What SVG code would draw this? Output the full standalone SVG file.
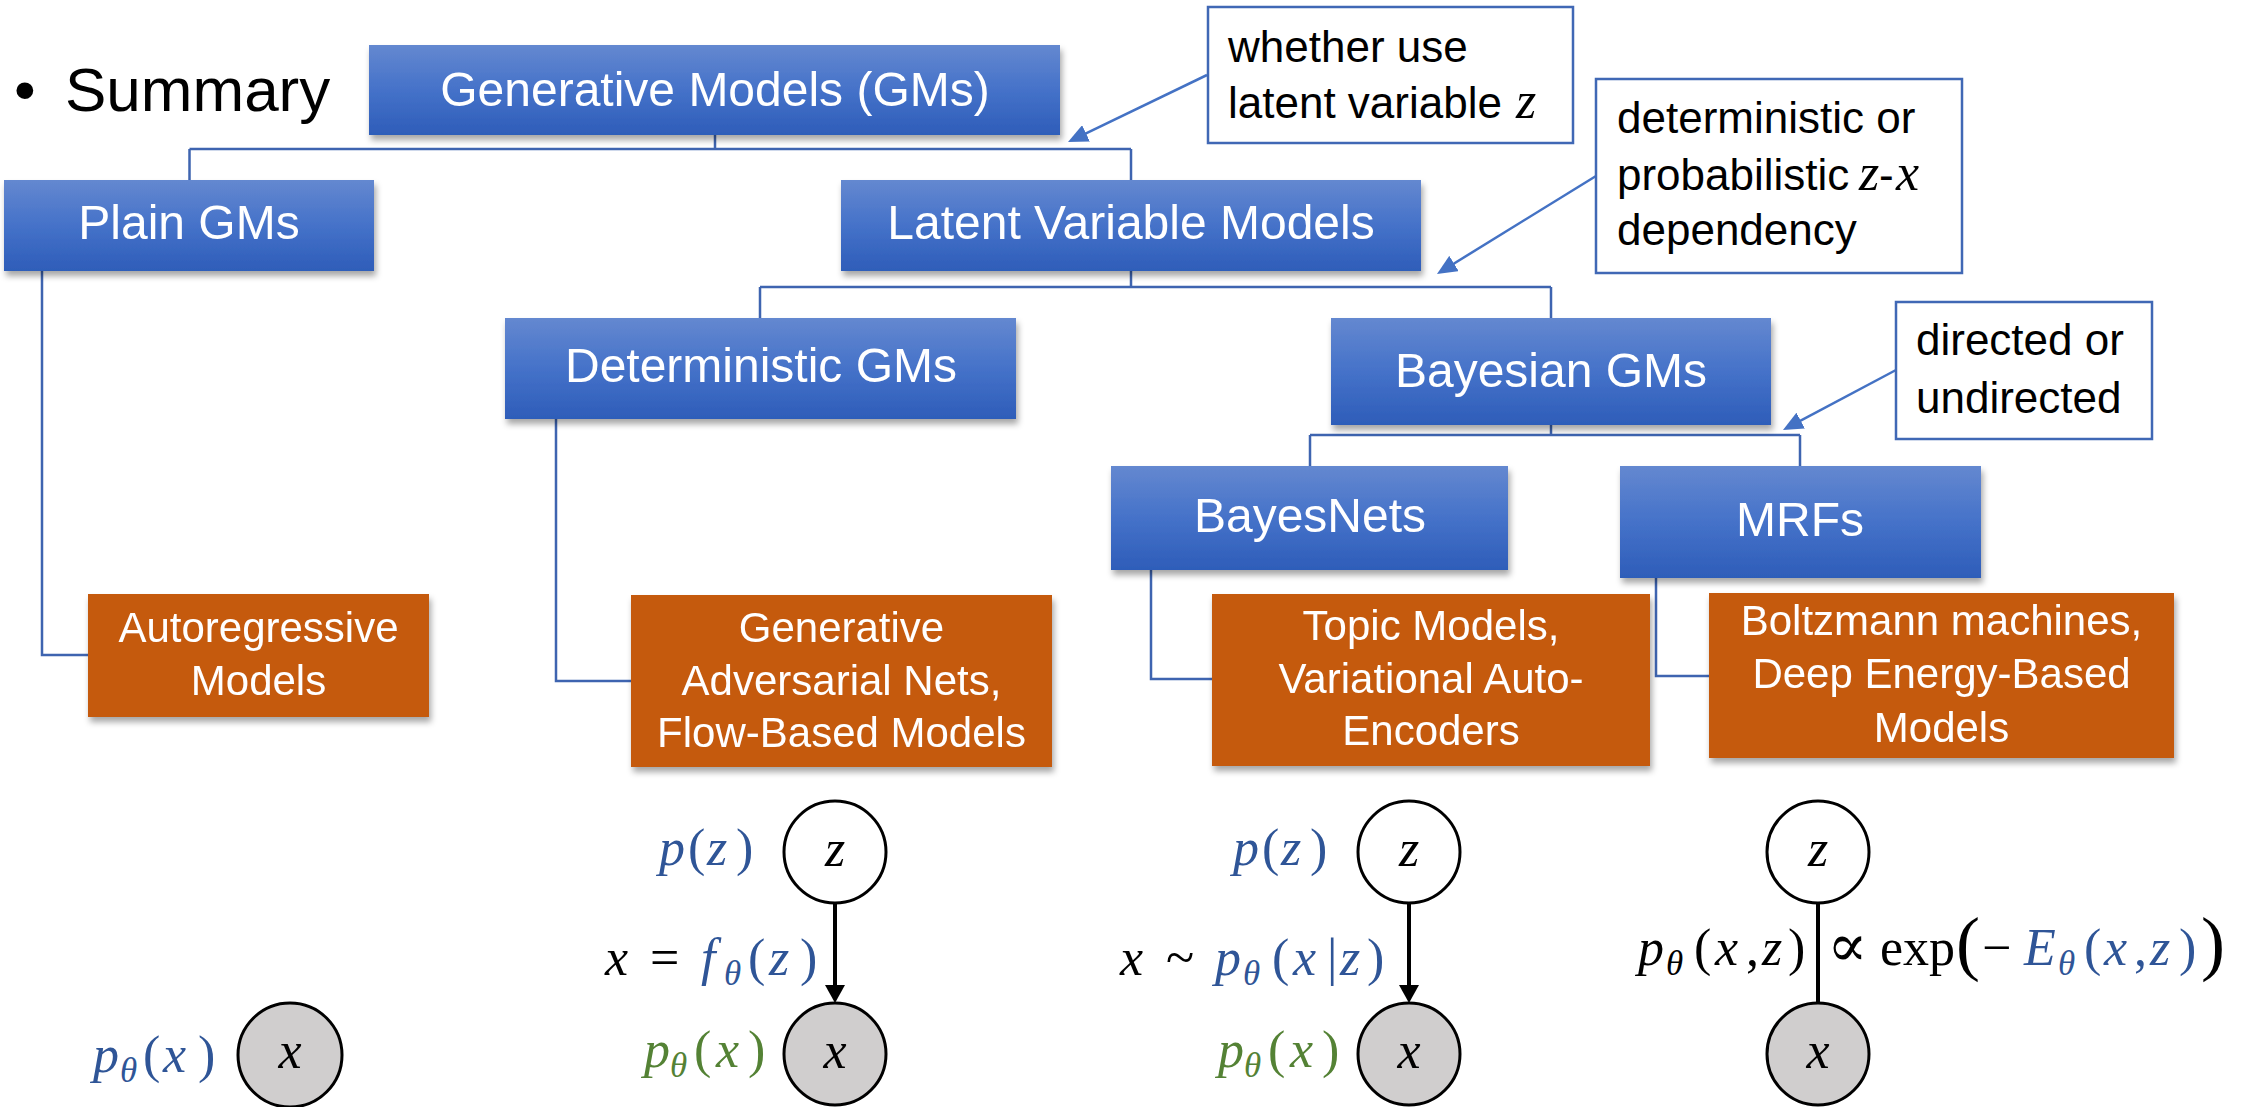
<svg xmlns="http://www.w3.org/2000/svg" width="2250" height="1107" viewBox="0 0 2250 1107">
<style>
.sans{font-family:"Liberation Sans",Arial,sans-serif}
.bt{font-family:"Liberation Sans",Arial,sans-serif;font-size:48px;fill:#fff;text-anchor:middle}
.ot{font-family:"Liberation Sans",Arial,sans-serif;font-size:42px;fill:#fff;text-anchor:middle}
.at{font-family:"Liberation Sans",Arial,sans-serif;font-size:44px;fill:#000}
.m{font-family:"Liberation Serif","DejaVu Serif",serif;font-size:52px;fill:#000}
.i{font-style:italic}
.s{font-size:35px;font-style:italic}
.bl{fill:#2F5597}
.gr{fill:#548235}
.conn{fill:none;stroke:#3E64B0;stroke-width:2.5}
.ann{fill:#fff;stroke:#4068B5;stroke-width:2.5}
.aline{fill:none;stroke:#4472C4;stroke-width:2.5}
.gline{fill:none;stroke:#000;stroke-width:4}
.circ{stroke:#000;stroke-width:3}
</style>
<defs>
<linearGradient id="blueg" x1="0" y1="0" x2="0" y2="1">
<stop offset="0" stop-color="#6488D0"/>
<stop offset="0.5" stop-color="#4572C9"/>
<stop offset="1" stop-color="#2E5DB9"/>
</linearGradient>
<filter id="sh" x="-10%" y="-10%" width="125%" height="135%">
<feDropShadow dx="2" dy="5" stdDeviation="3" flood-color="#000" flood-opacity="0.35"/>
</filter>
<marker id="ab" markerUnits="userSpaceOnUse" viewBox="0 0 20 18" markerWidth="20" markerHeight="18" refX="8" refY="9" orient="auto">
<path d="M0,0 L20,9 L0,18 z" fill="#4472C4"/>
</marker>
<marker id="kb" markerUnits="userSpaceOnUse" viewBox="0 0 18 20" markerWidth="18" markerHeight="20" refX="5" refY="10" orient="auto">
<path d="M0,0 L18,10 L0,20 z" fill="#000"/>
</marker>
</defs>
<rect width="2250" height="1107" fill="#fff"/>

<g id="title">
<text class="sans" x="14" y="111" font-size="62">•</text>
<text class="sans" x="65" y="111" font-size="62">Summary</text>
</g>

<g id="connectors">
<path class="conn" d="M715,135 V149 M189.5,149 H1131 M189.5,149 V180 M1131,149 V180"/>
<path class="conn" d="M42,271 V655 H88"/>
<path class="conn" d="M1131,271 V287 M760,287 H1551 M760,287 V318 M1551,287 V318"/>
<path class="conn" d="M556,419 V681 H631"/>
<path class="conn" d="M1551,425 V435 M1310,435 H1800 M1310,435 V466 M1800,435 V466"/>
<path class="conn" d="M1151,570 V679 H1212"/>
<path class="conn" d="M1656,578 V676 H1709"/>
<line class="aline" x1="1207" y1="75" x2="1078.8" y2="136.8" marker-end="url(#ab)"/>
<line class="aline" x1="1596" y1="176" x2="1447.2" y2="267.7" marker-end="url(#ab)"/>
<line class="aline" x1="1896" y1="370" x2="1793.6" y2="424.4" marker-end="url(#ab)"/>
</g>

<g id="n-gm" filter="url(#sh)"><rect x="369" y="45" width="691" height="90" fill="url(#blueg)"/><text class="bt" x="715" y="106">Generative Models (GMs)</text></g>
<g id="n-plain" filter="url(#sh)"><rect x="4" y="180" width="370" height="91" fill="url(#blueg)"/><text class="bt" x="189" y="239">Plain GMs</text></g>
<g id="n-lvm" filter="url(#sh)"><rect x="841" y="180" width="580" height="91" fill="url(#blueg)"/><text class="bt" x="1131" y="239">Latent Variable Models</text></g>
<g id="n-det" filter="url(#sh)"><rect x="505" y="318" width="511" height="101" fill="url(#blueg)"/><text class="bt" x="761" y="382">Deterministic GMs</text></g>
<g id="n-bayes" filter="url(#sh)"><rect x="1331" y="318" width="440" height="107" fill="url(#blueg)"/><text class="bt" x="1551" y="387">Bayesian GMs</text></g>
<g id="n-bn" filter="url(#sh)"><rect x="1111" y="466" width="397" height="104" fill="url(#blueg)"/><text class="bt" x="1310" y="532">BayesNets</text></g>
<g id="n-mrf" filter="url(#sh)"><rect x="1620" y="466" width="361" height="112" fill="url(#blueg)"/><text class="bt" x="1800" y="536">MRFs</text></g>

<g id="n-ar" filter="url(#sh)"><rect x="88" y="594" width="341" height="123" fill="#C55A11"/><text class="ot" x="258.5" y="642">Autoregressive</text><text class="ot" x="258.5" y="695">Models</text></g>
<g id="n-gan" filter="url(#sh)"><rect x="631" y="595" width="421" height="172" fill="#C55A11"/><text class="ot" x="841.5" y="642">Generative</text><text class="ot" x="841.5" y="695">Adversarial Nets,</text><text class="ot" x="841.5" y="747">Flow-Based Models</text></g>
<g id="n-topic" filter="url(#sh)"><rect x="1212" y="594" width="438" height="172" fill="#C55A11"/><text class="ot" x="1431" y="640">Topic Models,</text><text class="ot" x="1431" y="693">Variational Auto-</text><text class="ot" x="1431" y="745">Encoders</text></g>
<g id="n-boltz" filter="url(#sh)"><rect x="1709" y="593" width="465" height="165" fill="#C55A11"/><text class="ot" x="1941.5" y="635">Boltzmann machines,</text><text class="ot" x="1941.5" y="688">Deep Energy-Based</text><text class="ot" x="1941.5" y="742">Models</text></g>

<g id="a-whether"><rect class="ann" x="1208" y="7" width="365" height="136"/><text class="at" x="1228" y="62">whether use</text><text class="at" x="1228" y="118">latent variable <tspan class="m i" x="1516" font-size="48">z</tspan></text></g>
<g id="a-det"><rect class="ann" x="1596" y="79" width="366" height="194"/><text class="at" x="1617" y="133">deterministic or</text><text class="at" x="1617" y="190">probabilistic <tspan class="m i" x="1859" font-size="48">z</tspan><tspan x="1879">-</tspan><tspan class="m i" x="1896" font-size="48">x</tspan></text><text class="at" x="1617" y="245">dependency</text></g>
<g id="a-dir"><rect class="ann" x="1896" y="302" width="256" height="137"/><text class="at" x="1916" y="355">directed or</text><text class="at" x="1916" y="413">undirected</text></g>

<g id="g-ar">
<circle class="circ" cx="290" cy="1055" r="52" fill="#D0CECE"/>
<text class="m i" x="290" y="1068" text-anchor="middle">x</text>
<text class="m bl"><tspan class="i" x="93" y="1072">p</tspan><tspan class="s" x="120" y="1082">θ</tspan><tspan x="143" y="1072">(</tspan><tspan class="i" x="163" y="1072">x</tspan><tspan x="198" y="1072">)</tspan></text>
</g>

<g id="g-det">
<circle class="circ" cx="835" cy="852" r="51" fill="#fff"/>
<text class="m i" x="835" y="866" text-anchor="middle">z</text>
<circle class="circ" cx="835" cy="1054" r="51" fill="#D0CECE"/>
<text class="m i" x="835" y="1068" text-anchor="middle">x</text>
<line class="gline" x1="835" y1="903" x2="835" y2="990" marker-end="url(#kb)"/>
<text class="m bl"><tspan class="i" x="659" y="865">p</tspan><tspan x="688" y="865">(</tspan><tspan class="i" x="707" y="865">z</tspan><tspan x="736" y="865">)</tspan></text>
<text class="m"><tspan class="i" x="605" y="975">x</tspan><tspan x="650" y="975">=</tspan><tspan class="i bl" x="701" y="975">f</tspan><tspan class="s bl" x="724" y="985">θ</tspan><tspan class="bl" x="748" y="975">(</tspan><tspan class="i bl" x="769" y="975">z</tspan><tspan class="bl" x="800" y="975">)</tspan></text>
<text class="m gr"><tspan class="i" x="644" y="1067">p</tspan><tspan class="s" x="670" y="1077">θ</tspan><tspan x="694" y="1067">(</tspan><tspan class="i" x="716" y="1067">x</tspan><tspan x="748" y="1067">)</tspan></text>
</g>

<g id="g-bayes">
<circle class="circ" cx="1409" cy="852" r="51" fill="#fff"/>
<text class="m i" x="1409" y="866" text-anchor="middle">z</text>
<circle class="circ" cx="1409" cy="1054" r="51" fill="#D0CECE"/>
<text class="m i" x="1409" y="1068" text-anchor="middle">x</text>
<line class="gline" x1="1409" y1="903" x2="1409" y2="990" marker-end="url(#kb)"/>
<text class="m bl"><tspan class="i" x="1233" y="865">p</tspan><tspan x="1262" y="865">(</tspan><tspan class="i" x="1281" y="865">z</tspan><tspan x="1310" y="865">)</tspan></text>
<text class="m"><tspan class="i" x="1120" y="975">x</tspan><tspan x="1166" y="975">~</tspan><tspan class="i bl" x="1215" y="975">p</tspan><tspan class="s bl" x="1243" y="985">θ</tspan><tspan class="bl" x="1272" y="975">(</tspan><tspan class="i bl" x="1293" y="975">x</tspan><tspan class="bl" x="1327" y="975">|</tspan><tspan class="i bl" x="1340" y="975">z</tspan><tspan class="bl" x="1367" y="975">)</tspan></text>
<text class="m gr"><tspan class="i" x="1218" y="1067">p</tspan><tspan class="s" x="1244" y="1077">θ</tspan><tspan x="1268" y="1067">(</tspan><tspan class="i" x="1290" y="1067">x</tspan><tspan x="1322" y="1067">)</tspan></text>
</g>

<g id="g-mrf">
<line class="gline" x1="1818" y1="902" x2="1818" y2="1004"/>
<circle class="circ" cx="1818" cy="852" r="51" fill="#fff"/>
<text class="m i" x="1818" y="866" text-anchor="middle">z</text>
<circle class="circ" cx="1818" cy="1054" r="51" fill="#D0CECE"/>
<text class="m i" x="1818" y="1068" text-anchor="middle">x</text>
<text class="m"><tspan class="i" x="1638" y="965">p</tspan><tspan class="s" x="1666" y="975">θ</tspan><tspan x="1694" y="965">(</tspan><tspan class="i" x="1715" y="965">x</tspan><tspan x="1746" y="965">,</tspan><tspan class="i" x="1762" y="965">z</tspan><tspan x="1788" y="965">)</tspan><tspan x="1827" y="966" font-size="60">∝</tspan><tspan x="1880" y="965">exp</tspan><tspan x="1956" y="967" font-size="72">(</tspan><tspan x="1982" y="965">−</tspan><tspan class="i bl" x="2024" y="965">E</tspan><tspan class="s bl" x="2058" y="975">θ</tspan><tspan class="bl" x="2084" y="965">(</tspan><tspan class="i bl" x="2104" y="965">x</tspan><tspan class="bl" x="2134" y="965">,</tspan><tspan class="i bl" x="2150" y="965">z</tspan><tspan class="bl" x="2179" y="965">)</tspan><tspan x="2201" y="967" font-size="72">)</tspan></text>
</g>
</svg>
